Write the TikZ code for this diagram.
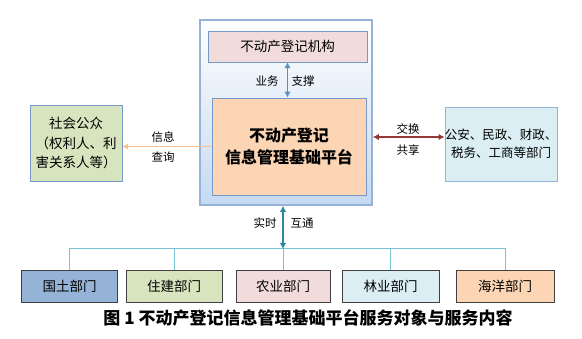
\documentclass[tikz,border=0pt]{standalone}
\usepackage{fontspec}
\setmainfont{Noto Sans CJK SC}
\usepackage{xcolor}
\usetikzlibrary{arrows.meta, positioning, calc}

\definecolor{frameblue}{RGB}{149,179,215}
\definecolor{lineblue}{RGB}{120,152,200}
\definecolor{pinkfill}{RGB}{242,220,219}
\definecolor{peachfill}{RGB}{252,213,180}
\definecolor{greenfill}{RGB}{215,228,189}
\definecolor{cyanfill}{RGB}{219,238,244}
\definecolor{bluefill}{RGB}{149,179,215}
\definecolor{skyfill}{RGB}{197,217,241}
\definecolor{darkred}{RGB}{149,55,53}
\definecolor{lightorange}{RGB}{250,192,144}
\definecolor{tealline}{RGB}{120,196,212}
\definecolor{tealarrow}{RGB}{49,133,156}
\definecolor{arrowblue}{RGB}{91,140,200}

\begin{document}
\begin{tikzpicture}[
    x=1pt, y=-1pt,
    box/.style={rectangle, draw=#1, fill=white, inner sep=0pt, align=center},
    dept/.style={rectangle, draw=black!75, fill=#1, minimum height=32pt, minimum width=96pt, inner sep=0pt, font=\fontsize{13.5}{16}\selectfont},
    lbl/.style={inner sep=0pt, font=\fontsize{11.5}{14}\selectfont},
    arrow/.style={{Latex[length=6pt,width=6.5pt]}-{Latex[length=6pt,width=6.5pt]}, line width=1.2pt, #1}
]
\useasboundingbox (0,0) rectangle (582,339);

% platform frame
\node[box=frameblue, line width=1.6pt, top color=white, bottom color=skyfill, minimum width=172pt, minimum height=185pt] (outer) at (286,112.5) {};
\node[box=lineblue, fill=pinkfill, minimum width=159pt, minimum height=31pt, font=\fontsize{13.5}{16}\selectfont] (jigou) at (287.5,46.5) {不动产登记机构};
\node[box=lineblue, fill=peachfill, line width=0.8pt, minimum width=154pt, minimum height=97pt, font=\fontsize{16}{22}\selectfont\bfseries] (platform) at (289,146.5) {不动产登记\\信息管理基础平台};

% side boxes
\node[box=lineblue, fill=greenfill, minimum width=92pt, minimum height=76pt, font=\fontsize{13.5}{19.5}\selectfont] (shehui) at (76,143) {社会公众\\（权利人、利\\害关系人等）};
\node[box=frameblue, fill=cyanfill, minimum width=112pt, minimum height=74pt, font=\fontsize{12.5}{18}\selectfont] (bumen) at (501,144) {公安、民政、财政、\\税务、工商等部门};

% departments
\node[dept=bluefill] (guotu) at (69.5,286) {国土部门};
\node[dept=greenfill] (zhujian) at (174,286) {住建部门};
\node[dept=pinkfill, minimum width=94pt] (nongye) at (283,286) {农业部门};
\node[dept=cyanfill, minimum width=97pt] (linye) at (390.5,286) {林业部门};
\node[dept=peachfill, minimum width=98pt] (haiyang) at (505,286) {海洋部门};

% labels
\node[lbl] (yewu) at (267,81) {业务};
\node[lbl] (zhicheng) at (303,81) {支撑};
\node[lbl] (xinxi) at (163,137) {信息};
\node[lbl] (chaxun) at (163,157) {查询};
\node[lbl] (jiaohuan) at (408,129) {交换};
\node[lbl] (gongxiang) at (408,150) {共享};
\node[lbl] (shishi) at (265,223) {实时};
\node[lbl] (hutong) at (302,223) {互通};

\node[font=\fontsize{17}{20}\selectfont\bfseries] (caption) at (308,318) {图 1 不动产登记信息管理基础平台服务对象与服务内容};

% connectors
\coordinate (bus) at (0,249);
\coordinate (xchg) at (0,137);
\draw[arrow=arrowblue] (jigou.south) -- (platform.north -| jigou.south);
\draw[-{Latex[length=6pt,width=6.5pt]}, line width=1.2pt, lightorange] (platform.west) -- (platform.west -| shehui.east);
\draw[arrow=darkred] (outer.east |- xchg) -- (bumen.west |- xchg);
\draw[tealline, line width=1pt] (guotu.north) |- (haiyang.north |- bus) -- (haiyang.north);
\draw[tealline, line width=1pt] (zhujian.north) -- (zhujian.north |- bus);
\draw[tealline, line width=1pt] (linye.north) -- (linye.north |- bus);
\draw[tealline, line width=1pt] (nongye.north) -- (nongye.north |- bus);
\draw[arrow=tealarrow] (outer.south -| nongye.north) -- (nongye.north |- bus);
\end{tikzpicture}
\end{document}
